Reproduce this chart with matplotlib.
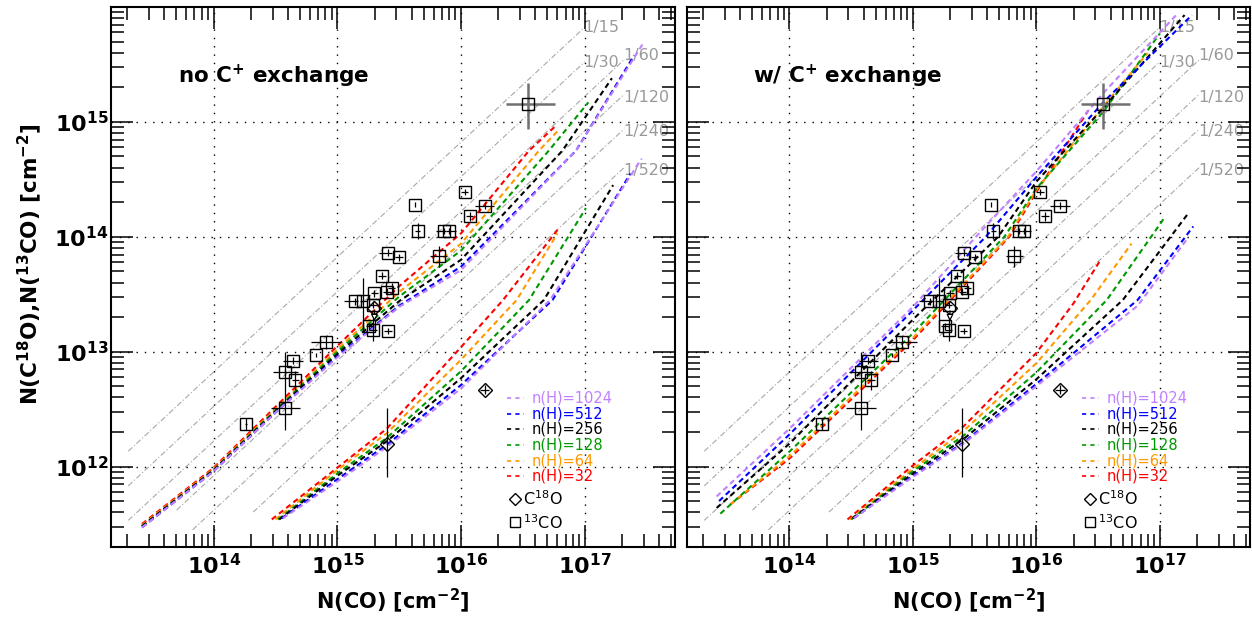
import numpy as np
import matplotlib.pyplot as plt
from matplotlib.ticker import LogLocator, NullFormatter, FixedLocator, FuncFormatter

plt.rcParams['font.family'] = ['DejaVu Sans']
plt.rcParams['mathtext.fontset'] = 'dejavusans'

# densities n(H) and their colours (legend order, top to bottom)
densities = [1024, 512, 256, 128, 64, 32]
colors = {1024: '#c080ff', 512: '#0000ff', 256: '#000000',
          128: '#009900', 64: '#ff9900', 32: '#ff0000'}

# model curves: log10 N(CO), log10 N(isotopologue)
# left panel, no C+ exchange
noex_13co = {
    32:   ([13.42, 14.0, 14.5, 15.0, 15.5, 16.0, 16.55, 16.77], [11.50, 11.99, 12.52, 13.05, 13.57, 14.03, 14.75, 14.97]),
    64:   ([13.42, 14.0, 14.5, 15.0, 15.5, 16.0, 16.63, 16.79], [11.49, 11.98, 12.50, 13.02, 13.52, 13.94, 14.75, 14.93]),
    128:  ([13.42, 14.0, 14.5, 15.0, 15.5, 16.0, 16.71, 17.03], [11.48, 11.97, 12.49, 13.00, 13.48, 13.88, 14.75, 15.17]),
    256:  ([13.42, 14.0, 14.5, 15.0, 15.5, 16.0, 16.82, 17.22], [11.48, 11.97, 12.48, 12.98, 13.44, 13.80, 14.75, 15.38]),
    512:  ([13.42, 14.0, 14.5, 15.0, 15.5, 16.0, 16.93, 17.40], [11.47, 11.96, 12.47, 12.96, 13.40, 13.74, 14.75, 15.58]),
    1024: ([13.42, 14.0, 14.5, 15.0, 15.5, 16.0, 16.93, 17.47], [11.47, 11.96, 12.47, 12.95, 13.39, 13.71, 14.75, 15.68]),
}
noex_c18o = {
    32:   ([14.47, 15.0, 15.4, 16.0, 16.34, 16.78], [11.54, 11.99, 12.33, 13.04, 13.45, 14.06]),
    64:   ([14.50, 15.0, 15.4, 16.0, 16.45, 16.78], [11.54, 11.97, 12.29, 12.93, 13.45, 14.03]),
    128:  ([14.52, 15.0, 15.4, 16.0, 16.55, 17.01], [11.54, 11.94, 12.25, 12.83, 13.45, 14.25]),
    256:  ([14.53, 15.0, 15.4, 16.0, 16.67, 17.23], [11.54, 11.92, 12.22, 12.77, 13.45, 14.45]),
    512:  ([14.55, 15.0, 15.4, 16.0, 16.74, 17.37], [11.55, 11.89, 12.19, 12.71, 13.45, 14.55]),
    1024: ([14.56, 15.0, 15.4, 16.0, 16.72, 17.46], [11.55, 11.87, 12.17, 12.68, 13.45, 14.68]),
}
# right panel, with C+ exchange
cex_13co = {
    32:   ([13.52, 14.0, 15.0, 15.78, 16.0, 16.42], [11.67, 12.07, 13.10, 14.00, 14.39, 15.10]),
    64:   ([13.52, 14.0, 15.0, 15.77, 16.0, 16.5, 16.9], [11.67, 12.09, 13.12, 14.00, 14.41, 15.08, 15.60]),
    128:  ([13.44, 14.0, 15.0, 15.74, 16.0, 16.55, 17.0], [11.59, 12.13, 13.16, 14.00, 14.42, 15.10, 15.77]),
    256:  ([13.41, 14.0, 15.0, 15.69, 16.0, 16.55, 17.2], [11.64, 12.20, 13.28, 14.00, 14.48, 15.13, 15.93]),
    512:  ([13.43, 14.0, 15.0, 15.59, 16.0, 16.55, 17.26], [11.70, 12.28, 13.36, 14.00, 14.52, 15.18, 15.93]),
    1024: ([13.41, 14.0, 15.0, 15.51, 16.0, 16.55, 17.15], [11.74, 12.33, 13.39, 14.00, 14.57, 15.26, 15.95]),
}
cex_c18o = {
    32:   ([14.47, 15.0, 15.41, 16.0, 16.3, 16.52], [11.54, 12.01, 12.35, 12.99, 13.42, 13.80]),
    64:   ([14.49, 15.0, 15.41, 16.0, 16.44, 16.77], [11.54, 11.98, 12.31, 12.90, 13.45, 13.94]),
    128:  ([14.50, 15.0, 15.41, 16.0, 16.57, 17.04], [11.54, 11.96, 12.27, 12.82, 13.45, 14.17]),
    256:  ([14.51, 15.0, 15.41, 16.0, 16.70, 17.22], [11.55, 11.94, 12.24, 12.76, 13.45, 14.19]),
    512:  ([14.52, 15.0, 15.41, 16.0, 16.82, 17.27], [11.55, 11.92, 12.21, 12.72, 13.45, 14.09]),
    1024: ([14.52, 15.0, 15.41, 16.0, 16.82, 17.22], [11.55, 11.91, 12.20, 12.70, 13.40, 13.98]),
}

# observed 13CO: log N(CO), log N(13CO), errors in dex (x low, x high, y low, y high)
obs13_x = [16.54, 16.03, 15.63, 16.19, 16.07, 15.65, 15.86, 15.90, 15.82, 15.41, 15.50, 15.36, 15.44, 15.40,
           15.30, 15.14, 15.21, 15.29, 15.26, 15.29, 15.41, 14.91, 14.83, 14.64, 14.58, 14.66, 14.58, 14.26]
obs13_y = [15.16, 14.39, 14.28, 14.27, 14.18, 14.05, 14.05, 14.05, 13.83, 13.86, 13.82, 13.66, 13.55, 13.52,
           13.51, 13.44, 13.44, 13.41, 13.22, 13.19, 13.18, 13.08, 12.97, 12.92, 12.82, 12.75, 12.51, 12.37]
obs13_dxlo = [.18, .03, 0, .08, .03, .02, .06, .02, .07, .07, .03, .03, .03, .03,
              .03, .09, .03, .03, .03, .03, .03, .12, 0, .08, .10, .03, .12, .01]
obs13_dxhi = [.22, .03, 0, .08, .03, .02, .02, .06, .07, .03, .03, .03, .03, .03,
              .03, .03, .03, .03, .03, .03, .03, .12, 0, .08, .10, .03, .12, .01]
obs13_dylo = [.22, .03, .02, .03, .04, .07, .03, .03, .09, .03, .03, .03, .05, .03,
              .03, .03, .25, .03, .03, .10, .03, .06, .02, .03, .03, .08, .19, .05]
obs13_dyhi = [.18, .03, .02, .03, .04, .07, .03, .03, .09, .03, .03, .03, .05, .03,
              .03, .03, .20, .03, .03, .10, .03, .06, .02, .03, .03, .08, .49, .05]

# observed C18O
obs18_x = [16.19, 15.40]
obs18_y = [12.67, 12.20]
obs18_dx = [.04, 0]
obs18_dylo = [.04, .29]
obs18_dyhi = [.04, .31]
lim18_x, lim18_y = 15.30, 13.38   # upper limit

# abundance ratio guide lines N(X)/N(CO)
ratios = [15, 30, 60, 120, 240, 520]
ratio_x0 = [13.31, 13.31, 13.31, 13.70, 13.83, 14.32]
ratio_x1 = [17.0, 17.0, 17.32, 17.32, 17.32, 17.32]
ratio_label_y = [15.82, 15.52, 15.58, 15.21, 14.92, 14.58]

DASH = (0, (2.6, 1.8))


def style_axes(ax, show_ylabels):
    ax.set_xscale('log')
    ax.set_yscale('log')
    ax.set_xlim(10**13.17, 10**17.73)
    ax.set_ylim(10**11.30, 10**16.0)
    ax.xaxis.set_major_locator(FixedLocator([1e14, 1e15, 1e16, 1e17]))
    ax.yaxis.set_major_locator(FixedLocator([1e12, 1e13, 1e14, 1e15]))
    for axis in (ax.xaxis, ax.yaxis):
        axis.set_minor_locator(LogLocator(base=10, subs=np.arange(2, 10), numticks=20))
        axis.set_minor_formatter(NullFormatter())
        axis.set_major_formatter(FuncFormatter(lambda v, p: r'$\mathbf{10^{%d}}$' % round(np.log10(v))))
    ax.tick_params(which='both', direction='in', top=True, right=True, width=1.1, colors='black')
    ax.tick_params(which='major', length=16, labelsize=16)
    ax.tick_params(which='minor', length=9.5)
    ax.tick_params(axis='x', which='major', pad=4)
    ax.tick_params(axis='y', which='major', pad=2)
    if not show_ylabels:
        ax.tick_params(axis='y', labelleft=False)
    for s in ax.spines.values():
        s.set_linewidth(1.5)
    ax.grid(True, which='major', color='black', linestyle=(0, (1, 5)), linewidth=1.0)
    ax.set_axisbelow(False)


def draw_panel(ax, curves13, curves18, title):
    for r, x0, x1, ly in zip(ratios, ratio_x0, ratio_x1, ratio_label_y):
        xs = np.array([10**x0, 10**x1])
        ax.plot(xs, xs / r, color='#a8a8a8', lw=0.8, linestyle=(0, (5, 2, 1, 2)), zorder=1)
        ax.text(xs[1] * 0.98, 10**ly, '1/%d' % r, color='#999999', fontsize=11.5,
                ha='left', va='center', zorder=2)
    for curves in (curves13, curves18):
        for d in densities[::-1]:
            lx, ly = curves[d]
            ax.plot(10**np.array(lx), 10**np.array(ly), color=colors[d], lw=1.5, linestyle=DASH, zorder=3)

    # observations
    x = 10**np.array(obs13_x)
    y = 10**np.array(obs13_y)
    xerr = [x - 10**(np.array(obs13_x) - obs13_dxlo), 10**(np.array(obs13_x) + obs13_dxhi) - x]
    yerr = [y - 10**(np.array(obs13_y) - obs13_dylo), 10**(np.array(obs13_y) + obs13_dyhi) - y]
    ax.errorbar(x[1:], y[1:], xerr=[e[1:] for e in xerr], yerr=[e[1:] for e in yerr], fmt='none',
                ecolor='black', elinewidth=0.9, zorder=5)
    ax.errorbar(x[:1], y[:1], xerr=[e[:1] for e in xerr], yerr=[e[:1] for e in yerr], fmt='none',
                ecolor='#707070', elinewidth=1.8, zorder=5)
    ax.plot(x, y, linestyle='none', marker='s', ms=8, mfc='none', mec='black', mew=1.0, zorder=6)

    x18 = 10**np.array(obs18_x)
    y18 = 10**np.array(obs18_y)
    xerr18 = [x18 - 10**(np.array(obs18_x) - obs18_dx), 10**(np.array(obs18_x) + obs18_dx) - x18]
    yerr18 = [y18 - 10**(np.array(obs18_y) - obs18_dylo), 10**(np.array(obs18_y) + obs18_dyhi) - y18]
    ax.errorbar(x18, y18, xerr=xerr18, yerr=yerr18, fmt='none', ecolor='black', elinewidth=0.9, zorder=5)
    ax.plot(x18, y18, linestyle='none', marker='D', ms=7, mfc='none', mec='black', mew=1.0, zorder=6)
    ax.plot([10**lim18_x], [10**lim18_y], linestyle='none', marker='D', ms=7, mfc='none', mec='black',
            mew=1.0, zorder=6)
    ax.annotate('', xy=(10**lim18_x, 10**(lim18_y - 0.14)), xytext=(10**lim18_x, 10**lim18_y),
                arrowprops=dict(arrowstyle='-|>', color='black', lw=0.9, mutation_scale=10,
                                fc='white'), zorder=6)

    ax.text(0.118, 0.859, title, transform=ax.transAxes, fontsize=15.5, fontweight='bold',
            ha='left', va='baseline')

    # key
    y0, dy = 0.276, 0.029
    for i, d in enumerate(densities):
        yy = y0 - i * dy
        ax.plot([0.702, 0.732], [yy, yy], transform=ax.transAxes, color=colors[d], lw=1.2,
                linestyle=(0, (2.5, 2.5)))
        ax.text(0.745, yy, 'n(H)=%d' % d, transform=ax.transAxes, color=colors[d], fontsize=10.5,
                ha='left', va='center')
    ax.plot([0.716], [0.089], transform=ax.transAxes, marker='D', ms=6, mfc='none', mec='black', mew=1.0)
    ax.text(0.730, 0.089, r'C$^{18}$O', transform=ax.transAxes, fontsize=11.5, ha='left', va='center')
    ax.plot([0.716], [0.046], transform=ax.transAxes, marker='s', ms=7, mfc='none', mec='black', mew=1.0)
    ax.text(0.730, 0.046, r'$^{13}$CO', transform=ax.transAxes, fontsize=11.5, ha='left', va='center')


fig = plt.figure(figsize=(12.52, 6.18), dpi=100)
axL = fig.add_axes([111 / 1252, 71 / 618, 564 / 1252, 540 / 618])
axR = fig.add_axes([687 / 1252, 71 / 618, 563 / 1252, 540 / 618])

style_axes(axL, True)
style_axes(axR, False)
draw_panel(axL, noex_13co, noex_c18o, r'no C$^{\mathbf{+}}$ exchange')
draw_panel(axR, cex_13co, cex_c18o, r'w/ C$^{\mathbf{+}}$ exchange')

for ax in (axL, axR):
    ax.set_xlabel(r'N(CO) [cm$^{\mathbf{-2}}$]', fontsize=15, fontweight='bold', labelpad=6)
fig.text(30 / 1252, 1 - 264 / 618, r'N(C$^{\mathbf{18}}$O),N($^{\mathbf{13}}$CO) [cm$^{\mathbf{-2}}$]',
         rotation=90, fontsize=15.5, fontweight='bold', ha='center', va='center')

fig.savefig('out.png', dpi=100)
